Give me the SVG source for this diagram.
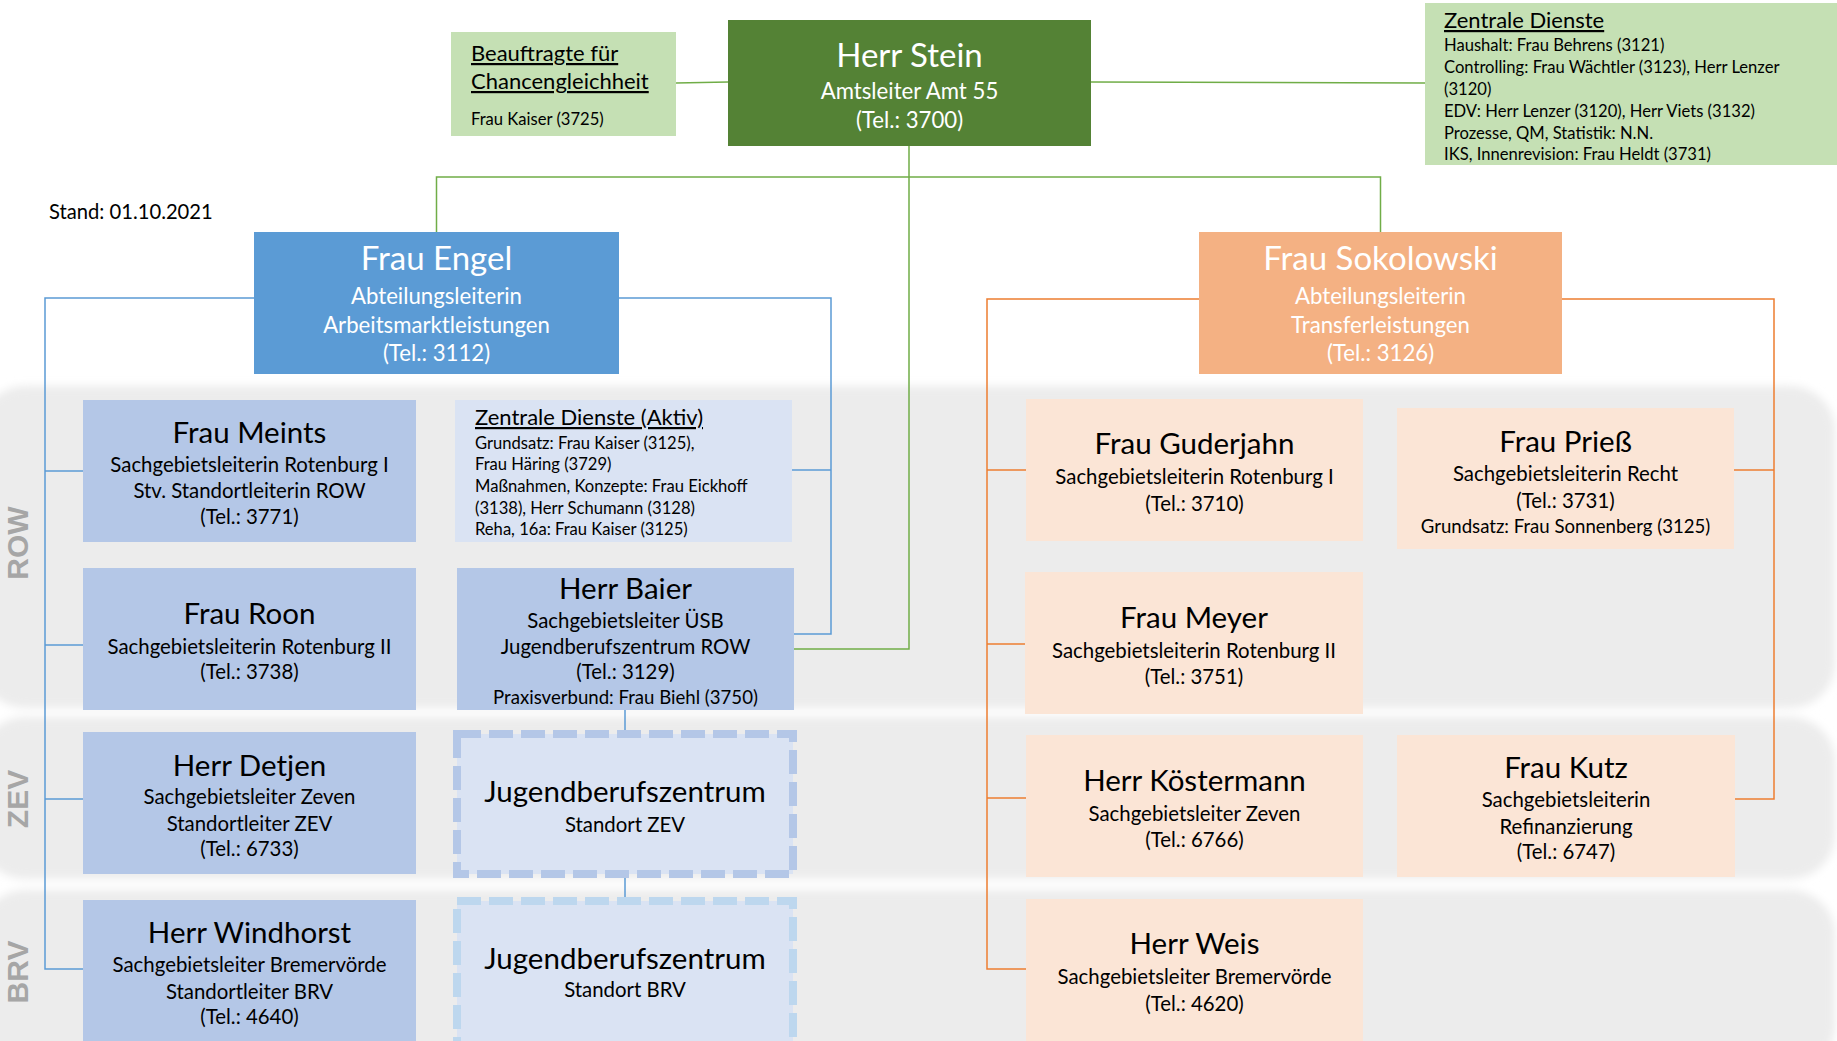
<svg xmlns="http://www.w3.org/2000/svg" width="1837" height="1041" viewBox="0 0 1837 1041">
<defs>
<filter id="soft" x="-5%" y="-10%" width="110%" height="120%"><feGaussianBlur stdDeviation="4"/></filter>
<style>
text{font-family:Lato,"Open Sans","Liberation Sans",sans-serif;fill:#000}
.c{text-anchor:middle}
.w{fill:#fff}
.t1{font-size:33px}
.s1{font-size:22.2px}
.t2{font-size:29.5px}
.s2{font-size:20.4px}
.s3{font-size:18.6px}
.zh{font-size:22px;text-decoration:underline}
.zl{font-size:16.6px}
.lab{font-family:"Liberation Sans",Arial,sans-serif;font-weight:bold;font-size:30px;fill:#a6a6a6;text-anchor:middle}
.g{stroke:#70ad47;stroke-width:1.5;fill:none}
.b{stroke:#5b9bd5;stroke-width:1.5;fill:none}
.o{stroke:#ed7d31;stroke-width:1.5;fill:none}
.nb{fill:#b4c7e7}
.no{fill:#fbe5d6}
.band{fill:#ececec}
</style>
</defs>
<rect width="1837" height="1041" fill="#fff"/>
<g id="bands" filter="url(#soft)">
<rect class="band" x="-20" y="386" width="1855" height="322" rx="45"/>
<rect class="band" x="-20" y="717" width="1855" height="162" rx="45"/>
<rect class="band" x="-20" y="890" width="1855" height="180" rx="45"/>
</g>
<text class="lab" transform="translate(28,543) rotate(-90)">ROW</text>
<text class="lab" transform="translate(28,799) rotate(-90)">ZEV</text>
<text class="lab" transform="translate(28,972) rotate(-90)">BRV</text>
<text x="49" y="219" style="font-size:20.2px">Stand: 01.10.2021</text>
<g id="connectors">
<path class="g" d="M676,83 L728,82"/>
<path class="g" d="M1091,82 L1425,83"/>
<path class="g" d="M909,146 V649 H794"/>
<path class="g" d="M436.5,232 V177 H1380.5 V232"/>
<path class="b" d="M254,298 H45 V969 H83"/>
<path class="b" d="M45,471 H83 M45,645 H83 M45,799 H83"/>
<path class="b" d="M619,298 H831 V634 H794 M831,470 H792"/>
<path class="b" d="M625,710 V734 M625,874 V901"/>
<path class="o" d="M1199,299 H987 V969 H1026"/>
<path class="o" d="M987,470 H1026 M987,644 H1025 M987,798 H1026"/>
<path class="o" d="M1562,299 H1774 V799 H1735 M1774,470 H1734"/>
</g>
<g id="stein">
<rect x="728" y="20" width="363" height="126" fill="#548235"/>
<text class="c w t1" x="909.5" y="67">Herr Stein</text>
<text class="c w s1" x="909.5" y="99">Amtsleiter Amt 55</text>
<text class="c w s1" x="909.5" y="128">(Tel.: 3700)</text>
</g>
<g id="beauftragte">
<rect x="451" y="32" width="225" height="104" fill="#c5e0b4"/>
<text class="zh" x="471" y="61">Beauftragte für</text>
<text class="zh" x="471" y="89">Chancengleichheit</text>
<text class="zl" x="471" y="125">Frau Kaiser (3725)</text>
</g>
<g id="zentrale-dienste">
<rect x="1425" y="3" width="412" height="162" fill="#c5e0b4"/>
<text class="zh" x="1444" y="28">Zentrale Dienste</text>
<text class="zl" x="1444" y="51">Haushalt: Frau Behrens (3121)</text>
<text class="zl" x="1444" y="73">Controlling: Frau Wächtler (3123), Herr Lenzer</text>
<text class="zl" x="1444" y="94.5">(3120)</text>
<text class="zl" x="1444" y="116.5">EDV: Herr Lenzer (3120), Herr Viets (3132)</text>
<text class="zl" x="1444" y="138.5">Prozesse, QM, Statistik: N.N.</text>
<text class="zl" x="1444" y="160">IKS, Innenrevision: Frau Heldt (3731)</text>
</g>
<g id="engel">
<rect x="254" y="232" width="365" height="142" fill="#5b9bd5"/>
<text class="c w t1" x="436.5" y="270">Frau Engel</text>
<text class="c w s1" x="436.5" y="304">Abteilungsleiterin</text>
<text class="c w s1" x="436.5" y="333">Arbeitsmarktleistungen</text>
<text class="c w s1" x="436.5" y="361">(Tel.: 3112)</text>
</g>
<g id="sokolowski">
<rect x="1199" y="232" width="363" height="142" fill="#f4b183"/>
<text class="c w t1" x="1380.5" y="270">Frau Sokolowski</text>
<text class="c w s1" x="1380.5" y="304">Abteilungsleiterin</text>
<text class="c w s1" x="1380.5" y="333">Transferleistungen</text>
<text class="c w s1" x="1380.5" y="361">(Tel.: 3126)</text>
</g>
<g id="meints">
<rect class="nb" x="83" y="400" width="333" height="142"/>
<text class="c t2" x="249.5" y="443">Frau Meints</text>
<text class="c s2" x="249.5" y="472">Sachgebietsleiterin Rotenburg I</text>
<text class="c s2" x="249.5" y="498">Stv. Standortleiterin ROW</text>
<text class="c s2" x="249.5" y="524">(Tel.: 3771)</text>
</g>
<g id="zd-aktiv">
<rect x="455" y="400" width="337" height="142" fill="#dae3f3"/>
<text class="zh" x="475" y="425">Zentrale Dienste (Aktiv)</text>
<text class="zl" x="475" y="449">Grundsatz: Frau Kaiser (3125),</text>
<text class="zl" x="475" y="470">Frau Häring (3729)</text>
<text class="zl" x="475" y="492">Maßnahmen, Konzepte: Frau Eickhoff</text>
<text class="zl" x="475" y="514">(3138), Herr Schumann (3128)</text>
<text class="zl" x="475" y="535">Reha, 16a: Frau Kaiser (3125)</text>
</g>
<g id="roon">
<rect class="nb" x="83" y="568" width="333" height="142"/>
<text class="c t2" x="249.5" y="624">Frau Roon</text>
<text class="c s2" x="249.5" y="654">Sachgebietsleiterin Rotenburg II</text>
<text class="c s2" x="249.5" y="679">(Tel.: 3738)</text>
</g>
<g id="baier">
<rect class="nb" x="457" y="568" width="337" height="142"/>
<text class="c t2" x="625.5" y="599">Herr Baier</text>
<text class="c s2" x="625.5" y="628">Sachgebietsleiter ÜSB</text>
<text class="c s2" x="625.5" y="654">Jugendberufszentrum ROW</text>
<text class="c s2" x="625.5" y="679">(Tel.: 3129)</text>
<text class="c s3" x="625.5" y="704">Praxisverbund: Frau Biehl (3750)</text>
</g>
<g id="detjen">
<rect class="nb" x="83" y="732" width="333" height="142"/>
<text class="c t2" x="249.5" y="776">Herr Detjen</text>
<text class="c s2" x="249.5" y="804">Sachgebietsleiter Zeven</text>
<text class="c s2" x="249.5" y="831">Standortleiter ZEV</text>
<text class="c s2" x="249.5" y="856">(Tel.: 6733)</text>
</g>
<g id="jbz-zev">
<rect x="457" y="734" width="336" height="140" fill="#dae3f3" stroke="#b4c7e7" stroke-width="8" stroke-dasharray="24 8"/>
<text class="c t2" x="625" y="802">Jugendberufszentrum</text>
<text class="c s2" x="625" y="832">Standort ZEV</text>
</g>
<g id="windhorst">
<rect class="nb" x="83" y="900" width="333" height="160"/>
<text class="c t2" x="249.5" y="943">Herr Windhorst</text>
<text class="c s2" x="249.5" y="972">Sachgebietsleiter Bremervörde</text>
<text class="c s2" x="249.5" y="999">Standortleiter BRV</text>
<text class="c s2" x="249.5" y="1024">(Tel.: 4640)</text>
</g>
<g id="jbz-brv">
<rect x="457" y="901" width="336" height="160" fill="#dae3f3" stroke="#bdd7ee" stroke-width="8" stroke-dasharray="24 8"/>
<text class="c t2" x="625" y="969">Jugendberufszentrum</text>
<text class="c s2" x="625" y="997">Standort BRV</text>
</g>
<g id="guderjahn">
<rect class="no" x="1026" y="399" width="337" height="142"/>
<text class="c t2" x="1194.5" y="454">Frau Guderjahn</text>
<text class="c s2" x="1194.5" y="484">Sachgebietsleiterin Rotenburg I</text>
<text class="c s2" x="1194.5" y="511">(Tel.: 3710)</text>
</g>
<g id="priess">
<rect class="no" x="1397" y="408" width="337" height="141"/>
<text class="c t2" x="1565.5" y="452">Frau Prieß</text>
<text class="c s2" x="1565.5" y="481">Sachgebietsleiterin Recht</text>
<text class="c s2" x="1565.5" y="508">(Tel.: 3731)</text>
<text class="c s3" x="1565.5" y="533">Grundsatz: Frau Sonnenberg (3125)</text>
</g>
<g id="meyer">
<rect class="no" x="1025" y="572" width="338" height="142"/>
<text class="c t2" x="1194" y="628">Frau Meyer</text>
<text class="c s2" x="1194" y="658">Sachgebietsleiterin Rotenburg II</text>
<text class="c s2" x="1194" y="684">(Tel.: 3751)</text>
</g>
<g id="koestermann">
<rect class="no" x="1026" y="735" width="337" height="142"/>
<text class="c t2" x="1194.5" y="791">Herr Köstermann</text>
<text class="c s2" x="1194.5" y="821">Sachgebietsleiter Zeven</text>
<text class="c s2" x="1194.5" y="847">(Tel.: 6766)</text>
</g>
<g id="kutz">
<rect class="no" x="1397" y="735" width="338" height="142"/>
<text class="c t2" x="1566" y="778">Frau Kutz</text>
<text class="c s2" x="1566" y="807">Sachgebietsleiterin</text>
<text class="c s2" x="1566" y="834">Refinanzierung</text>
<text class="c s2" x="1566" y="859">(Tel.: 6747)</text>
</g>
<g id="weis">
<rect class="no" x="1026" y="899" width="337" height="160"/>
<text class="c t2" x="1194.5" y="954">Herr Weis</text>
<text class="c s2" x="1194.5" y="984">Sachgebietsleiter Bremervörde</text>
<text class="c s2" x="1194.5" y="1011">(Tel.: 4620)</text>
</g>
</svg>
